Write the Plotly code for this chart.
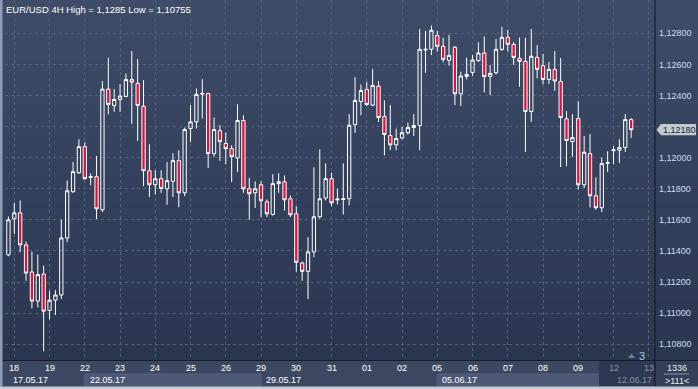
import plotly.graph_objects as go

# ---------------- data (EUR/USD 4H candles) ----------------
day_labels = ["18", "19", "22", "23", "24", "25", "26", "29", "30", "31",
              "01", "02", "05", "06", "07", "08", "09", "12", "13"]
week_labels = ["17.05.17", "22.05.17", "29.05.17", "05.06.17", "12.06.17"]
week_start_day = [None, 2, 7, 12, 17]          # index into day_labels
price_ticks = [1.108, 1.110, 1.112, 1.114, 1.116, 1.118, 1.120, 1.122, 1.124, 1.126, 1.128]
# the 1,12200 label is covered by the last-price tag in the reference
price_tick_text = ["1,10800", "1,11000", "1,11200", "1,11400", "1,11600", "1,11800",
                   "1,12000", "", "1,12400", "1,12600", "1,12800"]
last_price = 1.12180
last_price_text = "1,12180"
candles_per_day = 6
first_candle = -2   # two candles of 17.05 are visible before 18.05 00:00

opens = [1.11226, 1.11375, 1.11607, 1.11645, 1.11439, 1.11265, 1.11078, 1.11252, 1.11018, 1.11084,
         1.11117, 1.11484, 1.11781, 1.11903, 1.12071, 1.11873, 1.11878, 1.11665, 1.12441, 1.12336,
         1.12374, 1.12394, 1.12503, 1.12478, 1.12331, 1.11916, 1.11826, 1.11865, 1.11800, 1.11848,
         1.11981, 1.11774, 1.12187, 1.12230, 1.12409, 1.12413, 1.12026, 1.12174, 1.12091, 1.12058,
         1.11998, 1.12239, 1.11800, 1.11774, 1.11826, 1.11716, 1.11635, 1.11833, 1.11845, 1.11736,
         1.11639, 1.11323, 1.11269, 1.11394, 1.11620, 1.11740, 1.11865, 1.11729, 1.11731, 1.11736,
         1.12213, 1.12361, 1.12439, 1.12338, 1.12460, 1.12265, 1.12142, 1.12082, 1.12127, 1.12161,
         1.12194, 1.12207, 1.12693, 1.12697, 1.12785, 1.12716, 1.12626, 1.12710, 1.12411, 1.12523,
         1.12548, 1.12624, 1.12673, 1.12523, 1.12546, 1.12697, 1.12774, 1.12729, 1.12639, 1.12619,
         1.12297, 1.12645, 1.12591, 1.12503, 1.12568, 1.12490, 1.12250, 1.12103, 1.12252, 1.11826,
         1.12026, 1.11755, 1.11678, 1.11964, 1.12045, 1.12048, 1.12065, 1.12245]
highs = [1.11381, 1.11622, 1.11710, 1.11725, 1.11461, 1.11396, 1.11377, 1.11306, 1.11145, 1.11149,
         1.11602, 1.11854, 1.11972, 1.12118, 1.12099, 1.11899, 1.12011, 1.12493, 1.12643, 1.12441,
         1.12473, 1.12542, 1.12686, 1.12634, 1.12499, 1.12086, 1.11919, 1.11919, 1.11972, 1.12028,
         1.12048, 1.12194, 1.12338, 1.12445, 1.12505, 1.12417, 1.12258, 1.12209, 1.12161, 1.12080,
         1.12344, 1.12273, 1.11871, 1.11848, 1.11848, 1.11731, 1.11893, 1.11899, 1.11886, 1.11757,
         1.11686, 1.11332, 1.11489, 1.11938, 1.12054, 1.11964, 1.11903, 1.11800, 1.11964, 1.12280,
         1.12518, 1.12471, 1.12488, 1.12570, 1.12493, 1.12368, 1.12338, 1.12187, 1.12198, 1.12226,
         1.12280, 1.12828, 1.12815, 1.12850, 1.12815, 1.12772, 1.12789, 1.12718, 1.12553, 1.12643,
         1.12660, 1.12742, 1.12779, 1.12596, 1.12763, 1.12841, 1.12822, 1.12742, 1.12772, 1.12772,
         1.12828, 1.12725, 1.12667, 1.12615, 1.12686, 1.12641, 1.12299, 1.12280, 1.12364, 1.12140,
         1.12153, 1.11873, 1.12002, 1.12041, 1.12073, 1.12118, 1.12280, 1.12254]
lows = [1.11220, 1.11366, 1.11510, 1.11392, 1.11209, 1.11031, 1.11037, 1.10755, 1.10960, 1.10988,
        1.11091, 1.11456, 1.11774, 1.11895, 1.11860, 1.11822, 1.11605, 1.11650, 1.12278, 1.12295,
        1.12295, 1.12389, 1.12217, 1.12108, 1.11817, 1.11747, 1.11764, 1.11774, 1.11697, 1.11747,
        1.11682, 1.11753, 1.12101, 1.12187, 1.12252, 1.11934, 1.12005, 1.11979, 1.11959, 1.11843,
        1.11908, 1.11774, 1.11600, 1.11676, 1.11618, 1.11618, 1.11628, 1.11774, 1.11661, 1.11618,
        1.11267, 1.11209, 1.11091, 1.11360, 1.11607, 1.11725, 1.11688, 1.11699, 1.11635, 1.11693,
        1.12159, 1.12273, 1.12331, 1.12331, 1.12230, 1.12015, 1.12048, 1.12048, 1.12118, 1.12149,
        1.12140, 1.12048, 1.12546, 1.12660, 1.12682, 1.12613, 1.12591, 1.12338, 1.12333, 1.12503,
        1.12525, 1.12617, 1.12419, 1.12402, 1.12536, 1.12686, 1.12682, 1.12596, 1.12456, 1.12037,
        1.12230, 1.12510, 1.12473, 1.12473, 1.12430, 1.11940, 1.11946, 1.12005, 1.11794, 1.11805,
        1.11680, 1.11665, 1.11650, 1.11908, 1.11959, 1.11966, 1.12037, 1.12127]
closes = [1.11375, 1.11600, 1.11645, 1.11439, 1.11258, 1.11078, 1.11248, 1.11013, 1.11084, 1.11117,
          1.11484, 1.11787, 1.11910, 1.12071, 1.11865, 1.11878, 1.11671, 1.12441, 1.12342, 1.12374,
          1.12396, 1.12503, 1.12486, 1.12336, 1.11916, 1.11826, 1.11865, 1.11802, 1.11852, 1.11981,
          1.11774, 1.12181, 1.12230, 1.12407, 1.12413, 1.12026, 1.12181, 1.12103, 1.12058, 1.12007,
          1.12239, 1.11800, 1.11768, 1.11800, 1.11723, 1.11639, 1.11833, 1.11845, 1.11729, 1.11633,
          1.11327, 1.11269, 1.11394, 1.11620, 1.11736, 1.11865, 1.11710, 1.11734, 1.11736, 1.12209,
          1.12368, 1.12432, 1.12342, 1.12465, 1.12258, 1.12149, 1.12082, 1.12123, 1.12161, 1.12194,
          1.12207, 1.12697, 1.12697, 1.12819, 1.12716, 1.12632, 1.12658, 1.12411, 1.12525, 1.12536,
          1.12628, 1.12673, 1.12521, 1.12542, 1.12697, 1.12774, 1.12729, 1.12645, 1.12619, 1.12297,
          1.12652, 1.12568, 1.12503, 1.12568, 1.12493, 1.12258, 1.12110, 1.12129, 1.11826, 1.12035,
          1.11755, 1.11678, 1.11962, 1.11968, 1.12050, 1.12065, 1.12245, 1.12180]

# ---------------- geometry / style ----------------
W, H = 698, 389
ML, MR, MT, MB = 5, 43, 0, 29
PW, PH = W - ML - MR, H - MT - MB
X_RANGE = [-1.583, 109.06]
Y_RANGE = [1.10699, 1.13014]

FONT = "Liberation Sans, Arial, sans-serif"
RED = "#e0113a"
GRID = "#55627c"


def px_x(px):
    return (px - ML) / PW


def px_y(py):
    return (H - MB - py) / PH


def idx_x(i):
    return (i - X_RANGE[0]) / (X_RANGE[1] - X_RANGE[0])


x_idx = list(range(first_candle, first_candle + len(opens)))
day_pos = [d * candles_per_day for d in range(len(day_labels))]

fig = go.Figure()
fig.add_trace(go.Candlestick(
    x=x_idx, open=opens, high=highs, low=lows, close=closes,
    increasing=dict(line=dict(color="#ffffff", width=1), fillcolor="rgba(0,0,0,0)"),
    decreasing=dict(line=dict(color="#ffffff", width=1), fillcolor=RED),
    whiskerwidth=0, hoverinfo="skip", showlegend=False,
))

shapes = []
# vertical gradient background (plot + right price panel)
top_c, bot_c = (62, 76, 104), (42, 54, 80)
N = 60
for k in range(N):
    t = (k + 0.5) / N
    c = tuple(round(top_c[j] + (bot_c[j] - top_c[j]) * t) for j in range(3))
    y0 = k * (H - MB) / N
    y1 = (k + 1) * (H - MB) / N + 0.6
    shapes.append(dict(type="rect", xref="paper", yref="paper", layer="below",
                       x0=px_x(0), x1=px_x(W), y0=px_y(y1), y1=px_y(y0),
                       fillcolor="rgb(%d,%d,%d)" % c, line_width=0))
# bottom time strip
shapes.append(dict(type="rect", xref="paper", yref="paper", layer="below",
                   x0=px_x(0), x1=px_x(W - MR), y0=px_y(H), y1=px_y(H - MB),
                   fillcolor="#3c4862", line_width=0))
# highlighted weeks
for wk in (1, 3):
    a = idx_x(day_pos[week_start_day[wk]])
    b = idx_x(day_pos[week_start_day[wk + 1]]) if wk == 1 else px_x(599)
    shapes.append(dict(type="rect", xref="paper", yref="paper", layer="below",
                       x0=a, x1=b, y0=px_y(386), y1=px_y(374),
                       fillcolor="#4d5974", line=dict(color="#56627c", width=1)))
# darker scroll region at the right of the time strip
shapes.append(dict(type="rect", xref="paper", yref="paper", layer="below",
                   x0=px_x(599), x1=px_x(W - MR), y0=px_y(386), y1=px_y(H - MB),
                   fillcolor="#2e3852", line_width=0))
# bottom-right info box
shapes.append(dict(type="rect", xref="paper", yref="paper", layer="below",
                   x0=px_x(W - MR), x1=px_x(W), y0=px_y(386), y1=px_y(H - MB),
                   fillcolor="#34405a", line_width=0))
shapes.append(dict(type="line", xref="paper", yref="paper",
                   x0=px_x(664), x1=px_x(689), y0=px_y(374), y1=px_y(374),
                   line=dict(color="#8893a8", width=1)))
# separators
shapes.append(dict(type="line", xref="paper", yref="paper",
                   x0=px_x(W - MR), x1=px_x(W - MR), y0=px_y(H), y1=px_y(0),
                   line=dict(color="#10141f", width=1)))
shapes.append(dict(type="line", xref="paper", yref="paper",
                   x0=px_x(0), x1=px_x(W), y0=px_y(360.5), y1=px_y(360.5),
                   line=dict(color="#161c2a", width=1)))
# outer frame: light left edge and bottom edge
shapes.append(dict(type="rect", xref="paper", yref="paper",
                   x0=px_x(0), x1=px_x(2.5), y0=px_y(H), y1=px_y(0),
                   fillcolor="#8e9db4", line_width=0))
shapes.append(dict(type="rect", xref="paper", yref="paper",
                   x0=px_x(0), x1=px_x(W), y0=px_y(H), y1=px_y(386.5),
                   fillcolor="#c6cbd3", line_width=0))
# last price tag
shapes.append(dict(type="path", xref="paper", yref="y",
                   path="M {a},{m} L {b},{t} L {c},{t} L {c},{bt} L {b},{bt} Z".format(
                       a=px_x(656.5), b=px_x(661), c=px_x(696),
                       m=last_price, t=last_price + 0.00036, bt=last_price - 0.00036),
                   fillcolor="#c4c8d0", line_width=0))
# small scroll marker triangle
shapes.append(dict(type="path", xref="paper", yref="paper",
                   path="M {a},{b} L {c},{d} L {e},{b} Z".format(
                       a=px_x(628), b=px_y(358), c=px_x(631.5), d=px_y(353.5), e=px_x(635)),
                   fillcolor="#6f7a8e", line_width=0))

ann = []
# title
ann.append(dict(xref="paper", yref="paper", x=px_x(4), y=px_y(9), xanchor="left",
                yanchor="middle", showarrow=False, text="EUR/USD 4H High = 1,1285 Low = 1,10755",
                font=dict(family=FONT, size=9.5, color="#ffffff")))
# day labels
for d, lab in enumerate(day_labels):
    grey = d >= 17
    ann.append(dict(xref="x", yref="paper", x=day_pos[d], y=px_y(367.5), xanchor="center",
                    yanchor="middle", showarrow=False, text=lab,
                    font=dict(family=FONT, size=9, color="#8a93a5" if grey else "#ffffff")))
# week labels
for wk, lab in enumerate(week_labels):
    if week_start_day[wk] is None:
        ann.append(dict(xref="paper", yref="paper", x=px_x(11), y=px_y(380), xanchor="left",
                        yanchor="middle", showarrow=False, text=lab,
                        font=dict(family=FONT, size=9, color="#ffffff")))
    elif wk == len(week_labels) - 1:
        ann.append(dict(xref="paper", yref="paper", x=px_x(654), y=px_y(380), xanchor="right",
                        yanchor="middle", showarrow=False, text=lab,
                        font=dict(family=FONT, size=9, color="#8a93a5")))
    else:
        ann.append(dict(xref="x", yref="paper", x=day_pos[week_start_day[wk]], xshift=3,
                        y=px_y(380), xanchor="left", yanchor="middle", showarrow=False, text=lab,
                        font=dict(family=FONT, size=9, color="#ffffff")))
# last price text
ann.append(dict(xref="paper", yref="y", x=px_x(660.5), y=last_price, xanchor="left",
                yanchor="middle", showarrow=False, text=last_price_text,
                font=dict(family=FONT, size=9, color="#1b2436")))
# scroll marker "3"
ann.append(dict(xref="paper", yref="paper", x=px_x(637), y=px_y(355.5), xanchor="left",
                yanchor="middle", showarrow=False, text="3",
                font=dict(family=FONT, size=11, color="#a9c8ea")))
# bottom-right info box
ann.append(dict(xref="paper", yref="paper", x=px_x(676.5), y=px_y(368), xanchor="center",
                yanchor="middle", showarrow=False, text="1336",
                font=dict(family=FONT, size=9, color="#e8edf5")))
ann.append(dict(xref="paper", yref="paper", x=px_x(676.5), y=px_y(381), xanchor="center",
                yanchor="middle", showarrow=False, text="&gt;111&lt;",
                font=dict(family=FONT, size=9, color="#e8edf5")))

fig.update_layout(
    width=W, height=H,
    margin=dict(l=ML, r=MR, t=MT, b=MB, pad=0),
    paper_bgcolor="#34405c", plot_bgcolor="rgba(0,0,0,0)",
    font=dict(family=FONT, size=9, color="#cfdcf0"),
    showlegend=False, boxgap=0.2,
    shapes=shapes, annotations=ann,
    xaxis=dict(range=X_RANGE, tickvals=day_pos, showticklabels=False, ticks="",
               showgrid=True, gridcolor=GRID, griddash="3px,3px", gridwidth=1,
               zeroline=False, showline=False, rangeslider=dict(visible=False), fixedrange=True,
               automargin=False),
    yaxis=dict(range=Y_RANGE, side="right", tickvals=price_ticks, ticktext=price_tick_text,
               ticks="", ticklabelstandoff=3, tickfont=dict(family=FONT, size=9, color="#cfdcf0"),
               showgrid=True, gridcolor=GRID, griddash="3px,3px", gridwidth=1,
               zeroline=False, showline=False, fixedrange=True, automargin=False),
)

fig.write_html("out.html", config={"displayModeBar": False},
               post_script="document.body.style.margin='0px';document.body.style.overflow='hidden';")
